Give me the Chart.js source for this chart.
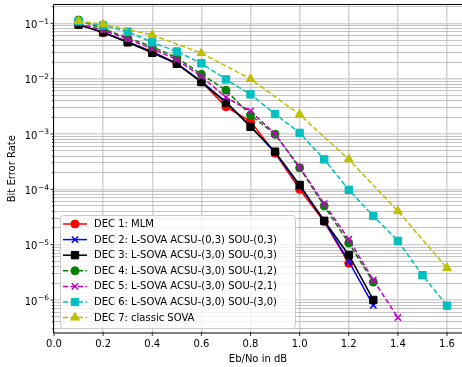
<!DOCTYPE html>
<html>
<head>
<meta charset="utf-8">
<script src="https://cdn.jsdelivr.net/npm/chart.js@4.4.0/dist/chart.umd.min.js"></script>
<style>
  body { margin: 0; background: #fff; }
  #wrap { width: 462px; height: 367px; }
</style>
</head>
<body>
<div id="wrap"><canvas id="berChart" width="462" height="367"></canvas></div>
<script>
// Eb/No points (dB)
const ebno = [0.1, 0.2, 0.3, 0.4, 0.5, 0.6, 0.7, 0.8, 0.9, 1.0, 1.1, 1.2, 1.3, 1.4, 1.5, 1.6];
const ebnoSova = [0.1, 0.2, 0.4, 0.6, 0.8, 1.0, 1.2, 1.4, 1.6];

// bit error rates
const berMlm = [0.096, 0.068, 0.046, 0.031, 0.019, 0.0088, 0.0031, 0.0017, 4.5e-4, 1.0e-4, 2.6e-5, 4.6e-6];
const berAcsu03Sou03 = [0.095, 0.068, 0.046, 0.030, 0.019, 0.0090, 0.0038, 0.0014, 4.6e-4, 1.15e-4, 2.7e-5, 5.0e-6, 8.0e-7];
const berAcsu30Sou03 = [0.095, 0.069, 0.0455, 0.0293, 0.0186, 0.0087, 0.0037, 0.00135, 4.8e-4, 1.2e-4, 2.7e-5, 6.5e-6, 1.0e-6];
const berAcsu30Sou12 = [0.115, 0.080, 0.055, 0.038, 0.024, 0.012, 0.0062, 0.0022, 9.9e-4, 2.45e-4, 5.0e-5, 1.07e-5, 2.1e-6];
const berAcsu30Sou21 = [0.100, 0.075, 0.052, 0.035, 0.022, 0.011, 0.0046, 0.0026, 1.0e-3, 2.5e-4, 5.5e-5, 1.25e-5, 2.3e-6, 4.8e-7];
const berAcsu30Sou30 = [0.109, 0.092, 0.071, 0.0455, 0.031, 0.019, 0.0097, 0.0052, 0.0023, 0.00105, 3.47e-4, 9.8e-5, 3.3e-5, 1.17e-5, 2.8e-6, 7.9e-7];
const berClassicSova = [0.110, 0.097, 0.062, 0.029, 0.0099, 0.00225, 3.48e-4, 4.03e-5, 3.8e-6];

const seriesNames = [
    'DEC 1: MLM',
    'DEC 2: L-SOVA ACSU-(0,3) SOU-(0,3)',
    'DEC 3: L-SOVA ACSU-(3,0) SOU-(0,3)',
    'DEC 4: L-SOVA ACSU-(3,0) SOU-(1,2)',
    'DEC 5: L-SOVA ACSU-(3,0) SOU-(2,1)',
    'DEC 6: L-SOVA ACSU-(3,0) SOU-(3,0)',
    'DEC 7: classic SOVA'
];

const xTickValues = [0, 0.2, 0.4, 0.6, 0.8, 1.0, 1.2, 1.4, 1.6];
const xTickLabels = ['0.0', '0.2', '0.4', '0.6', '0.8', '1.0', '1.2', '1.4', '1.6'];
const yTickValues = [1e-1, 1e-2, 1e-3, 1e-4, 1e-5, 1e-6];
const yTickBase = '10';
const yTickExponents = ['\u22121', '\u22122', '\u22123', '\u22124', '\u22125', '\u22126'];

// line / marker look per series
const seriesStyles = [
    { color: '#ff0000', point: 'circle', radius: 4, dash: [] },
    { color: '#0000ff', point: 'crossRot', radius: 4.5, dash: [] },
    { color: '#000000', point: 'rect', radius: 5.2, dash: [] },
    { color: '#008000', point: 'circle', radius: 4, dash: [5, 2.5] },
    { color: '#bf00bf', point: 'crossRot', radius: 4.5, dash: [5, 2.5] },
    { color: '#00bfbf', point: 'rect', radius: 5.2, dash: [5, 2.5] },
    { color: '#bfbf00', point: 'triangle', radius: 5, dash: [5, 2.5] }
];

const FONT = '"DejaVu Sans", sans-serif';

function toPoints(xs, ys) {
    return ys.map((y, i) => ({ x: xs[i], y: y }));
}

const seriesData = [
    toPoints(ebno, berMlm),
    toPoints(ebno, berAcsu03Sou03),
    toPoints(ebno, berAcsu30Sou03),
    toPoints(ebno, berAcsu30Sou12),
    toPoints(ebno, berAcsu30Sou21),
    toPoints(ebno, berAcsu30Sou30),
    toPoints(ebnoSova, berClassicSova)
];

const datasets = seriesData.map((pts, i) => {
    const st = seriesStyles[i];
    return {
        label: seriesNames[i],
        data: pts,
        borderColor: st.color,
        backgroundColor: st.color,
        pointBackgroundColor: st.color,
        pointBorderColor: st.color,
        pointStyle: st.point,
        pointRadius: st.radius,
        pointBorderWidth: st.point === 'crossRot' ? 1.5 : 1,
        borderWidth: 1.5,
        borderDash: st.dash,
        tension: 0,
        clip: 8,
        order: seriesNames.length - i   // later series on top, like matplotlib
    };
});

// frame, tick marks, 10^n labels and legend box
const axesDecor = {
    id: 'axesDecor',
    afterDatasetsDraw(chart) {
        const ctx = chart.ctx;
        const a = chart.chartArea;
        const ys = chart.scales.y;
        const xs = chart.scales.x;
        ctx.save();
        ctx.strokeStyle = '#000';
        ctx.lineWidth = 1;
        // left, bottom and top spines (right one sits past the canvas edge)
        ctx.beginPath();
        ctx.moveTo(chart.width, a.top - 0.5);
        ctx.lineTo(a.left - 0.5, a.top - 0.5);
        ctx.lineTo(a.left - 0.5, a.bottom + 0.5);
        ctx.lineTo(chart.width, a.bottom + 0.5);
        ctx.stroke();
        ctx.lineWidth = 0.8;
        ys.ticks.forEach(t => {
            const y = ys.getPixelForValue(t.value);
            const len = t.major ? 3.5 : 2;
            ctx.beginPath();
            ctx.moveTo(a.left - len, y);
            ctx.lineTo(a.left, y);
            ctx.stroke();
        });
        xs.ticks.forEach(t => {
            const x = xs.getPixelForValue(t.value);
            ctx.beginPath();
            ctx.moveTo(x, a.bottom);
            ctx.lineTo(x, a.bottom + 3.5);
            ctx.stroke();
        });
        // y labels as 10 with a raised exponent
        ctx.fillStyle = '#000';
        ctx.textAlign = 'right';
        ctx.textBaseline = 'alphabetic';
        yTickValues.forEach((v, k) => {
            const y = ys.getPixelForValue(v);
            const right = a.left - 5;
            ctx.font = '7.5px ' + FONT;
            const expW = ctx.measureText(yTickExponents[k]).width;
            ctx.fillText(yTickExponents[k], right, y + 0.2);
            ctx.font = '10px ' + FONT;
            ctx.fillText(yTickBase, right - expW - 0.5, y + 4.6);
        });
        ctx.restore();
    },
    afterDraw(chart) {
        const ctx = chart.ctx;
        const box = { x: 60, y: 215, w: 235, h: 113 };
        ctx.save();
        ctx.beginPath();
        ctx.roundRect(box.x + 0.5, box.y + 0.5, box.w, box.h, 3);
        ctx.fillStyle = 'rgba(255,255,255,0.8)';
        ctx.fill();
        ctx.strokeStyle = '#cccccc';
        ctx.lineWidth = 1;
        ctx.stroke();
        ctx.font = '10px ' + FONT;
        ctx.textBaseline = 'middle';
        chart.data.datasets.forEach((ds, i) => {
            const y = 224 + i * 15.6;
            ctx.strokeStyle = ds.borderColor;
            ctx.lineWidth = ds.borderWidth;
            ctx.setLineDash(ds.borderDash);
            ctx.beginPath();
            ctx.moveTo(63, y);
            ctx.lineTo(87, y);
            ctx.stroke();
            ctx.setLineDash([]);
            ctx.fillStyle = ds.pointBackgroundColor;
            ctx.strokeStyle = ds.pointBorderColor;
            ctx.lineWidth = ds.pointBorderWidth;
            Chart.helpers.drawPoint(ctx, {
                pointStyle: ds.pointStyle,
                radius: ds.pointRadius,
                rotation: 0,
                borderWidth: ds.pointBorderWidth
            }, 75, y);
            ctx.fillStyle = '#000';
            ctx.fillText(ds.label, 94, y + 0.5);
        });
        ctx.restore();
    }
};

new Chart(document.getElementById('berChart').getContext('2d'), {
    type: 'line',
    data: { datasets: datasets },
    plugins: [axesDecor],
    options: {
        responsive: false,
        animation: false,
        devicePixelRatio: 1,
        layout: { autoPadding: false, padding: { top: 5, right: 0, left: 0, bottom: 0 } },
        plugins: {
            legend: { display: false },
            tooltip: { enabled: false }
        },
        scales: {
            x: {
                type: 'linear',
                min: 0,
                max: 1.661,
                afterBuildTicks: scale => {
                    scale.ticks = xTickValues.map(v => ({ value: v }));
                },
                afterFit: scale => {
                    scale.height = 34.5;
                    scale.paddingLeft = 0;
                    scale.paddingRight = 0;
                },
                ticks: {
                    autoSkip: false,
                    maxRotation: 0,
                    padding: 6,
                    color: '#000',
                    font: { family: FONT, size: 10 },
                    callback: (v) => {
                        const k = xTickValues.findIndex(t => Math.abs(t - v) < 1e-9);
                        return k >= 0 ? xTickLabels[k] : '';
                    }
                },
                grid: {
                    drawTicks: false,
                    color: c => (c.tick && c.tick.value > 1.65) ? 'rgba(0,0,0,0)' : '#d3d3d3',
                    lineWidth: 1.5
                },
                border: { display: false },
                title: {
                    display: true,
                    text: 'Eb/No in dB',
                    color: '#000',
                    font: { family: FONT, size: 10 },
                    padding: { top: 0, bottom: 2 }
                }
            },
            y: {
                type: 'logarithmic',
                min: 2.58e-7,
                max: 0.215,
                afterBuildTicks: scale => {
                    const ticks = [];
                    for (let e = -7; e <= -1; e++) {
                        for (let m = 1; m <= 9; m++) {
                            const v = m * Math.pow(10, e);
                            if (v >= scale.min && v <= scale.max) {
                                ticks.push({ value: v, major: m === 1 });
                            }
                        }
                    }
                    scale.ticks = ticks;
                },
                afterFit: scale => {
                    scale.width = 54;
                    scale.paddingTop = 0;
                    scale.paddingBottom = 0;
                },
                ticks: {
                    autoSkip: false,
                    display: false
                },
                grid: {
                    drawTicks: false,
                    color: c => (c.tick && c.tick.major) ? '#d3d3d3' : '#b4b4b4',
                    lineWidth: c => (c.tick && c.tick.major) ? 1.5 : 0.8
                },
                border: { display: false },
                title: {
                    display: true,
                    text: 'Bit Error Rate',
                    color: '#000',
                    font: { family: FONT, size: 10 },
                    padding: { top: 6, bottom: 0 }
                }
            }
        }
    }
});
</script>
</body>
</html>
